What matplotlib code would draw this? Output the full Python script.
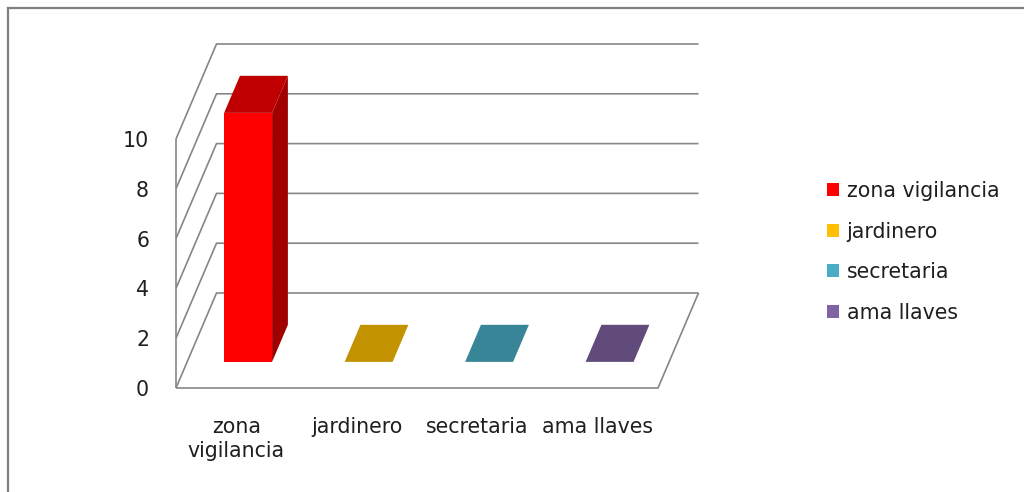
import matplotlib
matplotlib.use('Agg')
import matplotlib.pyplot as plt
from matplotlib.patches import Polygon, Patch
from matplotlib.lines import Line2D

# ---- data ----
categories = ['zona vigilancia', 'jardinero', 'secretaria', 'ama llaves']
axis_labels = ['zona\nvigilancia', 'jardinero', 'secretaria', 'ama llaves']
values = [10, 0, 0, 0]
yticks = [0, 2, 4, 6, 8, 10]
front_colors = ['#FF0000', '#FFC000', '#4BACC6', '#8064A2']
top_colors = ['#C00000', '#C29200', '#378597', '#614B7B']
side_colors = ['#A00000', '#A07800', '#2E6F7E', '#503E66']

plt.rcParams['font.family'] = ['DejaVu Sans']
FS = 14.8
TXT = '#1f1f1f'
W, H = 1024, 492
fig = plt.figure(figsize=(W / 100, H / 100), dpi=100)
ax = fig.add_axes([0, 0, 1, 1])

# oblique 3D projection expressed in data units
cat_px, unit_px = 120.5, 24.9
x0_px, y0_px = 176, 388
ax.set_xlim(-x0_px / cat_px, (W - x0_px) / cat_px)
ax.set_ylim(-(H - y0_px) / unit_px, y0_px / unit_px)
ax.axis('off')
DX = 40.5 / cat_px
DY = 95 / unit_px
n = len(categories)
vmax = max(yticks)


def P(x, v, d):
    return (x + d * DX, v + d * DY)


grid_kw = dict(color='#868686', lw=1.2, solid_capstyle='butt', zorder=1)

# left wall front edge
ax.plot(*zip(P(0, 0, 0), P(0, vmax, 0)), **grid_kw)
# gridlines on left wall and back wall
for t in yticks:
    pts = [P(0, t, 0), P(0, t, 1), P(n, t, 1)]
    ax.plot(*zip(*pts), **grid_kw)
# floor front and right edges
pts = [P(0, 0, 0), P(n, 0, 0), P(n, 0, 1)]
ax.plot(*zip(*pts), **grid_kw)

# bars
x_off, bw = 0.307, 0.398
d1, d2 = 0.275, 0.665
for i, v in enumerate(values):
    x1, x2 = i + x_off, i + x_off + bw
    if v > 0:
        front = [P(x1, 0, d1), P(x2, 0, d1), P(x2, v, d1), P(x1, v, d1)]
        side = [P(x2, 0, d1), P(x2, 0, d2), P(x2, v, d2), P(x2, v, d1)]
        ax.add_patch(Polygon(front, closed=True, fc=front_colors[i], ec='none', zorder=3))
        ax.add_patch(Polygon(side, closed=True, fc=side_colors[i], ec='none', zorder=3))
    top = [P(x1, v, d1), P(x2, v, d1), P(x2, v, d2), P(x1, v, d2)]
    ax.add_patch(Polygon(top, closed=True, fc=top_colors[i], ec='none', zorder=3))

# y tick labels
for t in yticks:
    ax.text((149 - x0_px) / cat_px, t - 0.08, str(t), ha='right', va='center',
            fontsize=FS, color=TXT)

# category labels
for i, lab in enumerate(axis_labels):
    ax.text(i + 0.5, (y0_px - 417) / unit_px, lab, ha='center', va='top',
            fontsize=FS, color=TXT, linespacing=1.22)

# legend
handles = [Patch(facecolor=c, edgecolor='none') for c in front_colors]
ax.legend(handles, categories, loc='upper left',
          bbox_to_anchor=(827 / W, 1 - 181 / H), bbox_transform=fig.transFigure,
          frameon=False, fontsize=FS, handlelength=0.6, handleheight=0.6,
          handletextpad=0.35, labelspacing=1.0, borderpad=0, borderaxespad=0,
          labelcolor=TXT)

# outer chart border (top and left)
fig.add_artist(Line2D([8 / W, 8 / W], [0, 1 - 8 / H], transform=fig.transFigure,
                      color='#808080', lw=1.6))
fig.add_artist(Line2D([8 / W, 1], [1 - 8 / H, 1 - 8 / H], transform=fig.transFigure,
                      color='#808080', lw=1.6))

fig.savefig('out.png', dpi=100)
